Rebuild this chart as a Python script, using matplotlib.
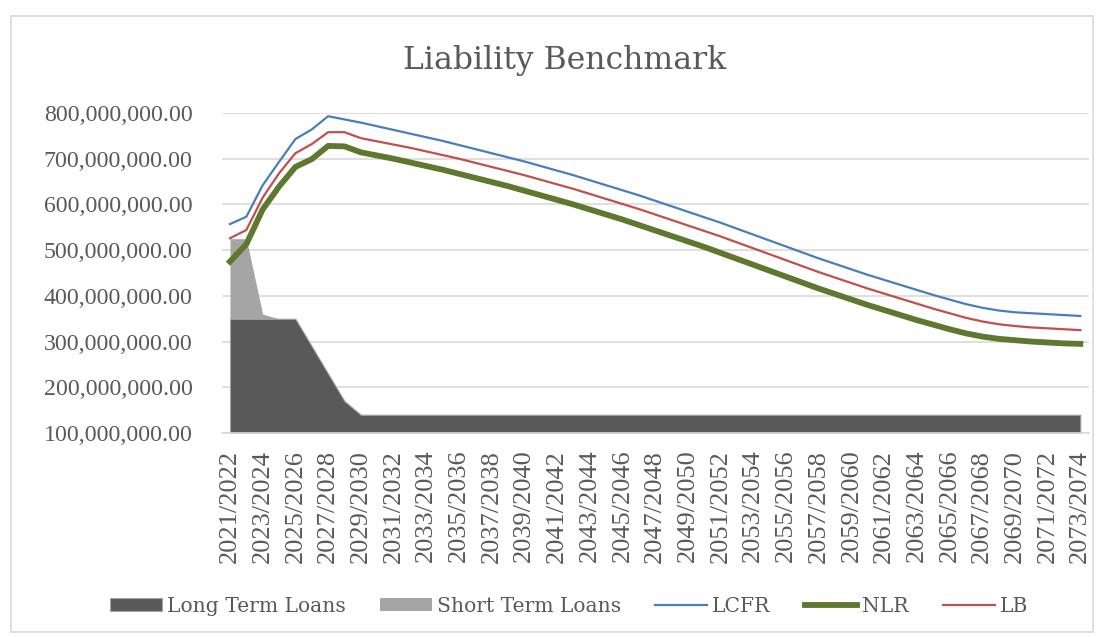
import matplotlib
matplotlib.use("Agg")
import matplotlib.pyplot as plt
from matplotlib.patches import Rectangle
import numpy as np

years = list(range(2021, 2074))
categories = [f"{y}/{y+1}" for y in years]

long_term = [350, 350, 350, 350, 350, 290, 230, 170, 140] + [140] * 44
short_term = [175, 175, 10, 0] + [0] * 49

lcfr = [557, 573, 642, 693, 743, 764, 793, 786, 779, 771, 763, 755, 747, 739, 730,
        721, 712, 703, 694, 684, 674, 664, 653, 642, 631, 620, 608, 596, 584, 572,
        560, 547, 534, 521, 508, 495, 482, 470, 458, 446, 435, 424, 413, 402, 392,
        382, 374, 368, 364, 362, 360, 358, 356]
lb = [526, 544, 615, 668, 712, 732, 758, 758, 745, 738, 731, 724, 716, 708, 700,
      691, 682, 673, 664, 654, 644, 634, 623, 612, 601, 590, 578, 566, 554, 542,
      530, 517, 504, 491, 478, 465, 452, 440, 428, 416, 405, 394, 383, 372, 362,
      352, 344, 338, 334, 331, 329, 327, 325]
nlr = [475, 513, 589, 639, 682, 699, 728, 727, 714, 707, 700, 692, 684, 676, 667,
       658, 649, 640, 630, 620, 610, 600, 589, 578, 567, 555, 543, 531, 519, 507,
       494, 481, 468, 455, 442, 429, 416, 404, 392, 380, 369, 358, 347, 337, 327,
       318, 311, 306, 303, 300, 298, 296, 295]

scale = 1e6
long_term = np.array(long_term) * scale
short_term = np.array(short_term) * scale
lcfr = np.array(lcfr) * scale
lb = np.array(lb) * scale
nlr = np.array(nlr) * scale

plt.rcParams['font.family'] = ['DejaVu Serif']
tickfont = ['Liberation Serif', 'DejaVu Serif']
txt = '#595959'

fig = plt.figure(figsize=(11.04, 6.37), dpi=100)
fig.patches.append(Rectangle((11/1104, 1 - 632/637), (1093-11)/1104, (632-16)/637,
                             transform=fig.transFigure, fill=False,
                             edgecolor='#d9d9d9', linewidth=1.2))
ax = fig.add_axes([221.8/1104, 1 - 433/637, (1088.5-221.8)/1104, (433-113)/637])

x = np.arange(len(categories))
base = 100e6
ax.fill_between(x, base, long_term, color='#595959', edgecolor='#a6a6a6', linewidth=0.8,
                label='Long Term Loans', zorder=2)
ax.fill_between(x, long_term, long_term + short_term, color='#a5a5a5', linewidth=0,
                label='Short Term Loans', zorder=2)
ax.plot(x, lcfr, color='#4a7ebb', linewidth=1.6, label='LCFR', zorder=3)
ax.plot(x, nlr, color='#5e782f', linewidth=4.2, label='NLR', zorder=3)
ax.plot(x, lb, color='#c0504d', linewidth=1.6, label='LB', zorder=3)

ax.set_xlim(-0.5, len(categories) - 0.5)
ax.set_ylim(100e6, 800e6)
ax.set_yticks(np.arange(100e6, 800e6 + 1, 100e6))
ax.yaxis.set_major_formatter(matplotlib.ticker.FuncFormatter(lambda v, p: f"{v:,.2f}"))
ax.grid(axis='y', color='#d9d9d9', linewidth=1.2, zorder=0)
ax.set_axisbelow(True)
ax.set_xticks(x[::2])
ax.set_xticklabels(categories[::2], rotation=90)
for s in ['top', 'right', 'left']:
    ax.spines[s].set_visible(False)
ax.spines['bottom'].set_color('#d9d9d9')
ax.spines['bottom'].set_linewidth(1.2)
ax.tick_params(axis='both', length=0, colors=txt)
ax.tick_params(axis='y', pad=21)
ax.tick_params(axis='x', pad=12)
for lbl in ax.get_yticklabels():
    lbl.set_family(tickfont)
    lbl.set_fontsize(17.2)
for lbl in ax.get_xticklabels():
    lbl.set_family(tickfont)
    lbl.set_fontsize(19)

fig.text(565/1104, 1 - 60/637, 'Liability Benchmark', ha='center', va='center',
         fontsize=22.7, color=txt)

leg = fig.legend(loc='center', bbox_to_anchor=(569/1104, 1 - 606/637), ncol=5,
                 frameon=False, fontsize=14.6, handlelength=2.55, handleheight=0.6,
                 columnspacing=1.7, handletextpad=0.25)
for t in leg.get_texts():
    t.set_color(txt)

fig.savefig('out.png', dpi=100)
